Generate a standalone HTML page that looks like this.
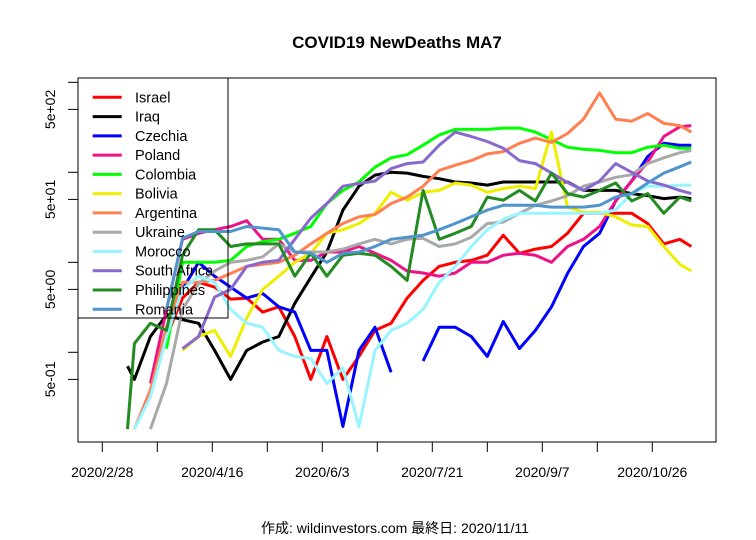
<!DOCTYPE html>
<html><head><meta charset="utf-8"><style>
body{margin:0;background:#fff}
svg{display:block;font-family:"Liberation Sans","Noto Sans CJK JP",sans-serif}
</style></head><body>
<svg id="chart" width="756" height="540" viewBox="0 0 756 540" xmlns="http://www.w3.org/2000/svg">
<rect width="756" height="540" fill="#fff"/>
<text x="397" y="48" text-anchor="middle" font-size="17" font-weight="bold">COVID19 NewDeaths MA7</text>
<g id="series"></g>
<g id="axes"></g>
<rect x="78" y="78" width="638" height="364" fill="none" stroke="#000" stroke-width="1"/>
<g id="legend"></g>
<text x="395" y="533" text-anchor="middle" font-size="14">作成: wildinvestors.com 最終日: 2020/11/11</text>
</svg>
<script>
const days=[11,14,21,28,35,42,49,56,63,70,77,84,91,98,105,112,119,126,133,140,147,154,161,168,175,182,189,196,203,210,217,224,231,238,245,252,257];
const countries=["Israel","Iraq","Czechia","Poland","Colombia","Bolivia","Argentina","Ukraine","Morocco","South Africa","Philippines","Romania"];
const colors=["#ff0000","#000000","#0000ff","#ee1289","#00ff00","#eeee00","#ff7f50","#a9a9a9","#98f5ff","#8968cd","#228b22","#4f94cd"];
const israel=[null,null,null,1.5,4,6,5.3,3.9,4,2.8,3.2,1.5,0.5,1.5,0.5,0.9,1.75,2.1,4,6.3,9,10,10.5,12,20,12.6,14,15,21,35,35,35,35,27,16,18,15];
const iraq=[0.7,0.5,1.5,2.6,2.3,2.1,1.05,0.5,1.05,1.3,1.5,3.5,6.8,13,38,70,93,100,98,90,85,78,76,72,78,78,78,78,78,63,63,63,58,55,51,53,51];
const czechia=[null,null,null,null,5,10,7,5.3,4,4.5,3.2,2.8,1.05,1.05,0.15,1.05,1.9,0.6,null,0.8,1.9,1.9,1.5,0.9,2.2,1.1,1.75,3.2,7.5,15,21,48,80,150,210,200,200];
const poland=[null,null,0.45,3,18,21,23,25,29,18,18,10.5,10.5,13,13,15,12.6,10.5,8,7.6,7,7.6,10,10,12,12.6,12,10,15,18,25,48,80,130,250,320,330];
const colombia=[null,null,null,1.1,10,10,10,10.5,15,17,18,21,25,45,63,78,114,145,157,200,260,300,300,300,310,310,280,230,190,180,175,165,165,190,200,185,185];
const bolivia=[null,null,null,null,1.05,1.5,1.75,0.9,2.4,5,7,10,12.6,21,23,27,35,60,49,60,63,76,72,60,66,70,66,280,41,36,36,32,26,25,15,9.5,8];
const argentina=[null,0.14,0.38,1.9,6,6,6.3,7.5,9,9.5,10,12,16,21,27,32,34,45,53,70,105,120,135,160,170,210,240,215,270,390,760,390,370,450,350,330,280];
const ukraine=[null,null,0.14,0.45,3,5.8,8,10,10.5,11.5,16,13,13,13,14,16,18,16,18,18.5,15,16,19,27,28,35,43,48,55,70,78,88,94,125,145,165,175];
const morocco=[null,0.14,0.32,1.5,5,7,6,3,2.1,1.9,1.05,0.9,0.85,0.45,0.67,0.15,1.05,1.75,2.1,3,6,9,15,23,30,35,35,35,35,35,35,38,58,70,70,72,72];
const southAfrica=[null,null,null,null,1.1,1.5,4.1,5,9,10,10.5,18,31,45,70,75,80,110,125,130,200,280,250,220,185,135,125,98,77,63,80,125,100,80,72,63,58];
const philippines=[0.14,1.25,2.1,1.75,12,23,23,15,16,16,16,7,12.6,7,12,12.6,12,9,6.3,63,18,21,25,53,49,63,48,98,58,53,63,76,48,58,35,53,48];
const romania=[null,null,null,3,18.5,22,22,22,25,24,23,13,12.6,10,12.6,13,15,18,19,20,23,27,32,38,43,43,43,41,41,41,43,53,58,76,98,115,130];
const seriesVals=[israel,iraq,czechia,poland,colombia,bolivia,argentina,ukraine,morocco,southAfrica,philippines,romania];
const xTickDays=[0,24,48,72,96,120,144,168,192,216,240];
const xTickLabels=["2020/2/28","","2020/4/16","","2020/6/3","","2020/7/21","","2020/9/7","","2020/10/26"];
const yTickVals=[1000,500,100,50,10,5,1,0.5];
const yLabelVals=[500,50,5,0.5];
const yLabelText=["5e+02","5e+01","5e+00","5e-01"];

const NS="http://www.w3.org/2000/svg";
function xS(d){return 102.3+d*55/24;}
function yS(v){return 172.3-90*(Math.log10(v)-2);}
function mk(tag,attrs){const e=document.createElementNS(NS,tag);for(const k in attrs)e.setAttribute(k,attrs[k]);return e;}

const sg=document.getElementById('series');
seriesVals.forEach((vals,i)=>{
  let segs=[],cur=[];
  vals.forEach((v,j)=>{
    if(v===null||v===undefined){if(cur.length)segs.push(cur);cur=[];}
    else cur.push(xS(days[j]).toFixed(1)+','+yS(Math.max(v,0.14)).toFixed(1));
  });
  if(cur.length)segs.push(cur);
  segs.forEach(s=>{
    const p=mk('polyline',{points:s.join(' '),fill:'none',stroke:colors[i],'stroke-width':3,'stroke-linejoin':'round'});
    
    
    sg.appendChild(p);
  });
});

const ag=document.getElementById('axes');
xTickDays.forEach((d,i)=>{
  const t=mk('line',{x1:xS(d),x2:xS(d),y1:442,y2:452,stroke:'#000'});
  
  
  ag.appendChild(t);
  if(xTickLabels[i]){
    const tx=mk('text',{x:xS(d),y:477,'text-anchor':'middle','font-size':14});
    tx.textContent=xTickLabels[i];
    
    
    ag.appendChild(tx);
  }
});
yTickVals.forEach(v=>{
  const t=mk('line',{x1:68,x2:78,y1:yS(v),y2:yS(v),stroke:'#000'});
  
  
  ag.appendChild(t);
});
yLabelVals.forEach((v,i)=>{
  const y=yS(v);
  const tx=mk('text',{x:55,y:y,'text-anchor':'middle','font-size':14,transform:'rotate(-90 55 '+y+')'});
  tx.textContent=yLabelText[i];
  
  
  ag.appendChild(tx);
});

const lg=document.getElementById('legend');
const lb=mk('rect',{x:78,y:78,width:150,height:240,fill:'none',stroke:'#000'});


lg.appendChild(lb);
countries.forEach((c,i)=>{
  const y=97.3+i*19.27;
  const ln=mk('line',{x1:92.7,x2:121.7,y1:y,y2:y,stroke:colors[i],'stroke-width':3});
  
  
  lg.appendChild(ln);
  const tx=mk('text',{x:135,y:y+5,'font-size':14.5});
  tx.textContent=c;
  
  
  lg.appendChild(tx);
});
</script>
</body></html>
